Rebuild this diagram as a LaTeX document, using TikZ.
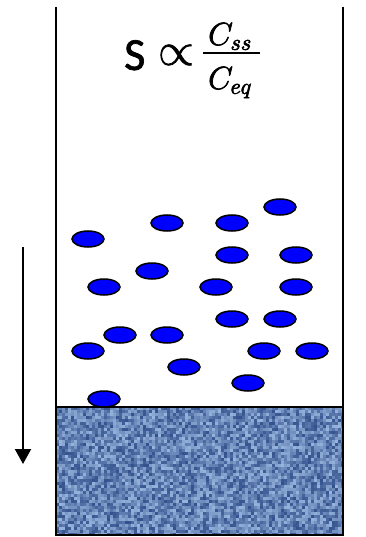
\RequirePackage{fix-cm}
\documentclass[tikz,border=0pt]{standalone}
\usepackage{fontspec}
\setmainfont{Carlito}
\usetikzlibrary{shapes.geometric,arrows.meta}
\definecolor{denimdark}{HTML}{2E4C88}
\definecolor{denimlight}{HTML}{A9C6EC}
\definecolor{denimmid}{HTML}{6A8BC2}
\definecolor{molblue}{HTML}{0000FF}
\newcommand{\heavytext}[1]{\special{pdf:literal 2 Tr 0.7 w}#1\special{pdf:literal 0 Tr}}
\tikzset{
  mol/.style={ellipse, draw=black, line width=1.5pt, fill=molblue, minimum width=32pt, minimum height=16pt, inner sep=0pt},
  wall/.style={line width=1.8pt, draw=black},
  fallarrow/.style={line width=2.2pt, -{Triangle[width=16pt,length=15pt]}},
}
\begin{document}
\begin{tikzpicture}[x=1pt,y=-1pt]
\useasboundingbox (0,0) rectangle (365,537);
% sediment block with texture
\begin{scope}
\clip (56,407) rectangle (343,535);
\fill[denimmid] (56,407) rectangle (343,535);
\pgfmathsetseed{7}
\foreach \i in {0,...,95}{
  \foreach \j in {0,...,42}{
    \pgfmathrandominteger{\r}{15}{95}
    \fill[denimdark!\r!denimlight] ({56+3*\i},{407+3*\j}) rectangle ++(3,3);
  }
}
\end{scope}
\draw[wall] (56,407) rectangle (343,535);
\draw[wall] (56,7) -- (56,407);
\draw[wall] (343,7) -- (343,407);
% formula
\node[anchor=base west, inner sep=0pt] (S) at (124,70) {\fontsize{46}{52}\selectfont\heavytext{S}};
\node[inner sep=0pt] (prop) at (176,55) {\fontsize{46}{52}\selectfont\heavytext{$\propto$}};
\node[anchor=base west, inner sep=0pt] (num) at (208,45) {\fontsize{32}{38}\selectfont\heavytext{$C_{ss}$}};
\node[anchor=base west, inner sep=0pt] (den) at (208,89) {\fontsize{32}{38}\selectfont\heavytext{$C_{eq}$}};
\coordinate (barL) at (203,53);
\coordinate (barR) at (260,53);
\draw[line width=2pt] (barL) -- (barR);
% molecules
\node[mol] (m1) at (280,207) {};
\node[mol] (m2) at (167,223) {};
\node[mol] (m3) at (232,223) {};
\node[mol] (m4) at (88,239) {};
\node[mol] (m5) at (232,255) {};
\node[mol] (m6) at (296,255) {};
\node[mol] (m7) at (152,271) {};
\node[mol] (m8) at (104,287) {};
\node[mol] (m9) at (216,287) {};
\node[mol] (m10) at (296,287) {};
\node[mol] (m11) at (232,319) {};
\node[mol] (m12) at (280,319) {};
\node[mol] (m13) at (120,335) {};
\node[mol] (m14) at (167,335) {};
\node[mol] (m15) at (88,351) {};
\node[mol] (m16) at (264,351) {};
\node[mol] (m17) at (312,351) {};
\node[mol] (m18) at (184,367) {};
\node[mol] (m19) at (248,383) {};
\node[mol] (m20) at (104,399) {};
% arrow
\coordinate (arrA) at (23,247);
\coordinate (arrB) at (23,464);
\draw[fallarrow] (arrA) -- (arrB);
\end{tikzpicture}
\end{document}
